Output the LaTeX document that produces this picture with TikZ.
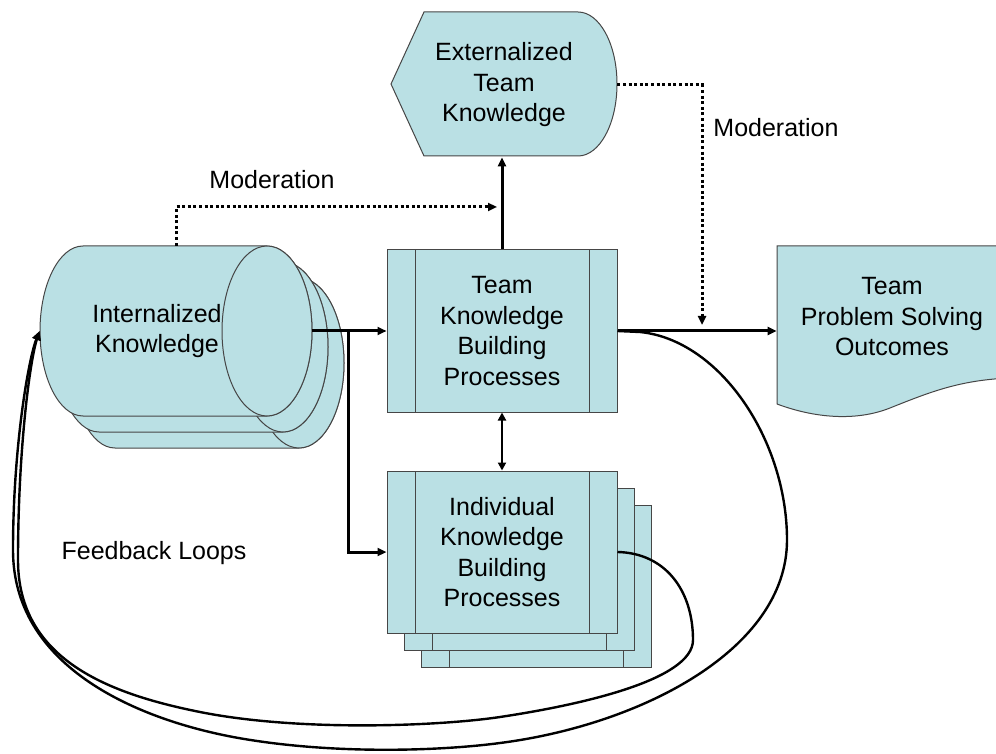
\documentclass[tikz,border=0pt]{standalone}
\usepackage{fontspec}
\setmainfont{Liberation Sans}
\usetikzlibrary{arrows.meta}
\definecolor{boxfill}{RGB}{186,224,228}
\definecolor{boxline}{RGB}{70,70,70}

\begin{document}
\begin{tikzpicture}[x=0.5pt,y=-0.5pt,
  every node/.style={font={\fontsize{12.5}{15.25}\selectfont}, align=center},
  shapebox/.style={draw=boxline, fill=boxfill, line width=0.5pt},
  procbox/.style={shapebox, minimum width=115pt, minimum height=81pt, inner sep=0pt,
    path picture={
      \draw[boxline, line width=0.5pt] ([xshift=14.25pt]path picture bounding box.north west) -- ([xshift=14.25pt]path picture bounding box.south west);
      \draw[boxline, line width=0.5pt] ([xshift=-14pt]path picture bounding box.north east) -- ([xshift=-14pt]path picture bounding box.south east);}},
  conn/.style={line width=1.5pt, -{Triangle[length=4.5pt,width=4pt]}},
  dbl/.style={line width=1pt, {Triangle[length=4pt,width=4pt]}-{Triangle[length=4pt,width=4pt]}},
  modline/.style={line width=1.5pt, dash pattern=on 1.5pt off 1.3pt, -{Triangle[length=4.5pt,width=4pt]}},
  fbloop/.style={line width=1.2pt, -{Triangle[length=4.5pt,width=4pt]}}]
  %Page and background
  \useasboundingbox (0,0) rectangle (996,754);
  \clip (0,0) rectangle (996,754);
  \fill[white] (0,0) rectangle (996,754);

  %Internalized knowledge (stack of cylinders)
  \foreach \d in {32,16,0}{
    \begin{scope}[shift={(\d,\d)}]
      \filldraw[shapebox] (83,246) -- (267,246) arc[start angle=-90, end angle=90, x radius=45, y radius=85]
        -- (83,416) arc[start angle=90, end angle=270, x radius=43, y radius=85] -- cycle;
      \draw[shapebox] (267,331) ellipse [x radius=45, y radius=85];
    \end{scope}
  }
  \node[minimum width=136pt, minimum height=85pt, inner sep=0pt] (ik) at (176,331) {};
  \node (iktext) at (157,331) {Internalized\\Knowledge};

  %Externalized team knowledge (display shape)
  \filldraw[shapebox] (424,12) -- (578,12) arc[start angle=-90, end angle=90, x radius=39, y radius=72]
    -- (424,156) -- (391,84) -- cycle;
  \node[minimum width=113pt, minimum height=72pt, inner sep=0pt] (etk) at (504,85) {Externalized\\Team\\Knowledge};

  %Team problem solving outcomes (document shape)
  \filldraw[shapebox] (777,404) -- (777,246) -- (1010,246) -- (1010,378)
    .. controls (960,380) and (930,392) .. (890,408)
    .. controls (860,420) and (820,420) .. (777,404);
  \node[minimum width=115pt, inner sep=0pt] (pso) at (892,317) {Team\\Problem Solving\\Outcomes};

  %Knowledge building processes
  \node[procbox] (tkbp) at (502,331) {Team\\Knowledge\\Building\\Processes};
  \node[procbox] (ikbp3) at (536,586) {};
  \node[procbox] (ikbp2) at (519,569) {};
  \node[procbox] (ikbp) at (502,552) {Individual\\Knowledge\\Building\\Processes};

  %Labels
  \node (modleft) at (272,180) {Moderation};
  \node (modright) at (776,128) {Moderation};
  \node (fbloops) at (154,553) {Feedback Loops};

  %Flows
  \draw[conn] (ik.east) -- (tkbp.west);
  \draw[conn] ([xshift=18pt]ik.east) |- (ikbp.west);
  \draw[conn] (tkbp.north) -- (tkbp.north |- etk.south);
  \draw[conn] (tkbp.east) -- (tkbp.east -| pso.west);
  \draw[dbl] (tkbp.south) -- (ikbp.north);

  %Moderation
  \coordinate (m1) at (497,207);
  \coordinate (m2) at (702,325);
  \draw[modline] (ik.north) |- (m1);
  \draw[modline] (etk.east) -| (m2);

  %Feedback loops
  \draw[fbloop] (tkbp.east) -- (640,332)
    .. controls (720,340) and (787,440) .. (787,540)
    .. controls (787,650) and (640,725) .. (500,743)
    .. controls (440,751) and (330,755) .. (233,737)
    .. controls (133,718) and (13,665) .. (13,550)
    .. controls (13,450) and (28,360) .. (ik.west);
  \draw[fbloop] (ikbp.east)
    .. controls (665,553) and (693,590) .. (693,640)
    .. controls (693,680) and (580,705) .. (500,717)
    .. controls (440,726) and (300,732) .. (200,712)
    .. controls (110,694) and (18,660) .. (18,560)
    .. controls (18,450) and (30,360) .. (ik.west);
\end{tikzpicture}
\end{document}
